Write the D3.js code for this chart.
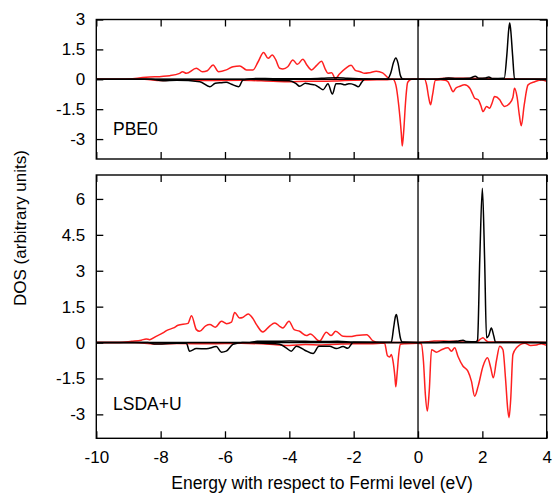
<!DOCTYPE html>
<html>
<head>
<meta charset="utf-8">
<title>DOS PBE0 vs LSDA+U</title>
<script src="https://cdn.jsdelivr.net/npm/d3@7"></script>
<style>
  body { margin: 0; background: #fff; }
  svg text { font-family: "Liberation Sans", Arial, Helvetica, sans-serif; fill: #000; }
</style>
</head>
<body>
<svg id="chart"></svg>
<script>
// energy ticks and labels
var xTicks = [-10, -8, -6, -4, -2, 0, 2, 4];
var pbe0Ticks = [3, 1.5, 0, -1.5, -3];
var lsdaTicks = [6, 4.5, 3, 1.5, 0, -1.5, -3];
var panelNames = ["PBE0", "LSDA+U"];

// PBE0 panel, [energy (eV), DOS]
var pbe0RedUp = [[-10,0],[-9.2,0],[-8.45,0.1],[-7.72,0.18],[-7.41,0.3],[-7.32,0.38],[-7.2,0.3],[-6.89,0.55],[-6.7,0.38],[-6.55,0.43],[-6.37,0.72],[-6.2,0.38],[-5.96,0.47],[-5.75,0.63],[-5.54,0.67],[-5.33,0.47],[-5.13,0.47],[-4.97,0.88],[-4.8,1.35],[-4.66,1.05],[-4.53,1.22],[-4.42,0.97],[-4.3,0.55],[-4.2,0.52],[-4.05,0.63],[-3.89,0.97],[-3.75,0.75],[-3.58,1.0],[-3.45,0.7],[-3.31,0.47],[-3.15,0.7],[-3.0,0.9],[-2.88,0.5],[-2.8,0.3],[-2.68,0.33],[-2.57,0.02],[-2.45,0.25],[-2.25,0.55],[-2.08,0.7],[-1.95,0.45],[-1.8,0.38],[-1.66,0.3],[-1.5,0.33],[-1.3,0.4],[-1.1,0.32],[-0.95,0.1],[-0.85,0],[0,0],[0.6,0.02],[0.9,0.05],[1.5,0.05],[2.0,0.04],[2.5,0.03],[3,0.02],[4,0]];
var pbe0RedDn = [[-10,0],[-8.5,0],[-8.0,-0.06],[-7.5,-0.04],[-6.5,-0.06],[-5.5,-0.05],[-4.5,-0.1],[-4,-0.12],[-3.5,-0.1],[-3,-0.1],[-2.5,-0.08],[-2,-0.05],[-1.5,-0.03],[-1,-0.02],[-0.78,0],[-0.69,-0.28],[-0.6,-1.3],[-0.52,-2.7],[-0.49,-3.35],[-0.44,-2.5],[-0.39,-1.2],[-0.32,-0.15],[-0.2,0],[0.2,0],[0.27,-0.3],[0.33,-0.9],[0.39,-1.28],[0.45,-0.8],[0.54,-0.05],[0.7,-0.02],[0.85,-0.05],[0.93,-0.12],[1.0,-0.35],[1.09,-0.62],[1.17,-0.45],[1.3,-0.35],[1.45,-0.28],[1.61,-0.45],[1.7,-0.75],[1.76,-0.95],[1.87,-1.03],[1.95,-1.3],[2.02,-1.62],[2.13,-1.37],[2.23,-1.45],[2.3,-1.2],[2.38,-0.87],[2.54,-1.03],[2.62,-1.25],[2.69,-1.37],[2.85,-1.2],[2.95,-0.9],[3.0,-0.45],[3.08,-0.9],[3.15,-1.8],[3.21,-2.33],[3.3,-1.3],[3.42,-0.28],[3.63,-0.12],[3.83,-0.03],[4,-0.1]];
var pbe0BlackUp = [[-10,0],[-5.5,0],[-5.0,0.04],[-4.5,0.03],[-3.5,0.03],[-3,0.05],[-2.5,0.08],[-2.2,0.05],[-1.5,0.02],[-0.95,0.02],[-0.85,0.3],[-0.76,0.85],[-0.69,1.07],[-0.62,0.8],[-0.55,0.2],[-0.48,0.02],[-0.3,0],[0.5,0],[0.8,0.04],[0.95,0.07],[1.2,0.04],[1.6,0.05],[1.78,0.15],[1.9,0.05],[2.1,0.06],[2.2,0.12],[2.3,0.04],[2.68,0.05],[2.76,1.2],[2.82,2.5],[2.85,2.82],[2.88,2.5],[2.94,1.2],[3.0,0.05],[3.1,0],[4,0]];
var pbe0BlackDn = [[-10,0],[-8.3,0],[-7.93,-0.07],[-7.5,-0.05],[-6.78,-0.12],[-6.47,-0.37],[-6.3,-0.2],[-6.1,-0.17],[-5.96,-0.15],[-5.8,-0.25],[-5.57,-0.37],[-5.44,-0.03],[-5.2,0],[-4.5,-0.05],[-4.0,-0.07],[-3.8,-0.2],[-3.68,-0.35],[-3.5,-0.2],[-3.35,-0.25],[-3.21,-0.28],[-3.08,-0.4],[-2.95,-0.52],[-2.8,-0.23],[-2.66,-0.74],[-2.55,-0.22],[-2.4,-0.22],[-2.28,-0.28],[-2.15,-0.22],[-2.07,-0.23],[-1.95,-0.3],[-1.86,-0.38],[-1.75,-0.15],[-1.66,0],[4,0]];

// LSDA+U panel
var lsdaRedUp = [[-10,0],[-9.27,0],[-8.9,0.05],[-8.6,0.1],[-8.45,0.15],[-8.34,0.12],[-8.14,0.26],[-7.93,0.4],[-7.82,0.5],[-7.6,0.61],[-7.46,0.72],[-7.15,0.8],[-7.04,1.12],[-6.89,0.54],[-6.79,0.47],[-6.6,0.7],[-6.47,0.75],[-6.3,0.64],[-6.11,0.89],[-5.95,0.79],[-5.8,0.85],[-5.7,1.26],[-5.55,1.03],[-5.45,1.05],[-5.28,1.19],[-5.13,1.0],[-5.02,0.75],[-4.82,0.44],[-4.62,0.68],[-4.45,0.82],[-4.3,0.68],[-4.2,0.61],[-4.01,0.89],[-3.85,0.54],[-3.68,0.47],[-3.47,0.29],[-3.35,0.36],[-3.06,0.06],[-2.85,0.43],[-2.7,0.29],[-2.56,0.47],[-2.33,0.26],[-2.1,0.25],[-1.92,0.29],[-1.59,0.33],[-1.4,0.07],[-1.2,0],[0,0],[0.3,0.03],[0.5,0.07],[0.8,0.06],[1.2,0.05],[1.4,0.02],[1.8,0.02],[1.95,0.15],[2.02,0.2],[2.1,0.1],[2.2,0.02],[3,0.02],[4,0]];
var lsdaRedDn = [[-10,0],[-8.8,0],[-8.2,-0.06],[-7.5,-0.04],[-6.5,-0.05],[-5.5,-0.03],[-4.5,-0.08],[-4,-0.12],[-3.5,-0.08],[-3,-0.1],[-2.5,-0.07],[-2,-0.05],[-1.5,-0.05],[-1.04,-0.02],[-0.95,-0.55],[-0.88,-0.6],[-0.83,-0.5],[-0.78,-0.75],[-0.72,-1.4],[-0.69,-1.85],[-0.65,-1.3],[-0.6,-0.5],[-0.55,-0.07],[-0.4,-0.05],[0,-0.03],[0.1,-0.05],[0.17,-0.8],[0.23,-2.2],[0.29,-2.86],[0.35,-2.0],[0.42,-0.3],[0.57,-0.4],[0.73,-0.3],[0.93,-0.22],[1.04,-0.36],[1.14,-0.22],[1.24,-0.57],[1.4,-0.99],[1.55,-1.19],[1.66,-1.61],[1.76,-2.24],[1.87,-1.82],[2.02,-0.99],[2.16,-0.64],[2.26,-1.05],[2.34,-1.47],[2.44,-0.74],[2.54,-0.15],[2.64,-0.3],[2.72,-1.5],[2.79,-2.8],[2.83,-3.14],[2.88,-2.4],[2.95,-0.5],[3.06,-0.22],[3.32,-0.03],[3.5,-0.12],[3.68,-0.1],[3.83,-0.05],[4,-0.12]];
var lsdaBlackUp = [[-10,0],[-5.3,0],[-5.0,0.05],[-4.5,0.05],[-4,0.06],[-3.5,0.05],[-3,0.04],[-2.5,0.05],[-2,0.02],[-1,0.01],[-0.83,0.02],[-0.76,0.6],[-0.7,1.1],[-0.67,1.17],[-0.62,0.8],[-0.55,0.2],[-0.49,0.02],[0,0],[0.5,0],[0.8,0.03],[1.2,0.05],[1.4,0.1],[1.5,0.04],[1.8,0.03],[1.85,0.1],[1.92,3.5],[2.0,6.45],[2.07,3.5],[2.13,0.2],[2.2,0.3],[2.28,0.61],[2.35,0.3],[2.41,0.02],[4,0]];
var lsdaBlackDn = [[-10,0],[-8.4,0],[-8.2,-0.06],[-7.5,-0.03],[-7.2,-0.03],[-7.1,-0.36],[-6.89,-0.25],[-6.58,-0.26],[-6.27,-0.17],[-6.11,-0.4],[-5.96,-0.36],[-5.75,-0.07],[-5.45,0],[-4.5,-0.05],[-4.3,-0.07],[-4.1,-0.22],[-3.94,-0.36],[-3.78,-0.15],[-3.52,-0.32],[-3.26,-0.46],[-3.08,-0.15],[-2.75,-0.15],[-2.54,-0.25],[-2.33,-0.17],[-2.18,-0.24],[-2.02,0],[4,0]];

var width = 557, height = 496;
var left = 96.3, right = 546.7;
var red = "#ff2020";

var svg = d3.select("#chart").attr("width", width).attr("height", height);

var x = d3.scaleLinear().domain([-10, 4]).range([left, right]);

var panels = [
  { name: panelNames[0], top: 19.5, bottom: 159, domain: [-4, 3], ticks: pbe0Ticks,
    red: [pbe0RedUp, pbe0RedDn], black: [pbe0BlackUp, pbe0BlackDn], labelY: 135, xLabels: false },
  { name: panelNames[1], top: 175, bottom: 438.3, domain: [-4, 7], ticks: lsdaTicks,
    red: [lsdaRedUp, lsdaRedDn], black: [lsdaBlackUp, lsdaBlackDn], labelY: 409.5, xLabels: true }
];

var fmt = function (d) { return d.toString(); };

panels.forEach(function (p, i) {
  var y = d3.scaleLinear().domain(p.domain).range([p.bottom, p.top]);
  var g = svg.append("g");

  g.append("clipPath").attr("id", "clip" + i)
    .append("rect").attr("x", left).attr("y", p.top)
    .attr("width", right - left).attr("height", p.bottom - p.top);

  var line = d3.line()
    .x(function (d) { return x(d[0]); })
    .y(function (d) { return y(d[1]); })
    .curve(d3.curveMonotoneX);

  var plot = g.append("g").attr("clip-path", "url(#clip" + i + ")");

  p.red.forEach(function (s) {
    plot.append("path").datum(s).attr("d", line)
      .attr("fill", "none").attr("stroke", red).attr("stroke-width", 1.5);
  });
  p.black.forEach(function (s) {
    plot.append("path").datum(s).attr("d", line)
      .attr("fill", "none").attr("stroke", "#000").attr("stroke-width", 1.5);
  });

  // zero lines
  plot.append("line").attr("x1", left).attr("x2", right)
    .attr("y1", y(0)).attr("y2", y(0))
    .attr("stroke", "#000").attr("stroke-width", 1.3);
  plot.append("line").attr("x1", x(0)).attr("x2", x(0))
    .attr("y1", p.top).attr("y2", p.bottom)
    .attr("stroke", "#000").attr("stroke-width", 1.3);

  // axes with inward ticks
  var bottomAxis = d3.axisBottom(x).tickValues(xTicks).tickSize(-7).tickPadding(13)
    .tickFormat(p.xLabels ? fmt : "");
  var topAxis = d3.axisTop(x).tickValues(xTicks).tickSize(-7).tickFormat("");
  var leftAxis = d3.axisLeft(y).tickValues(p.ticks).tickSize(-7).tickPadding(11).tickFormat(fmt);
  var rightAxis = d3.axisRight(y).tickValues(p.ticks).tickSize(-7).tickFormat("");

  [[bottomAxis, "translate(0," + p.bottom + ")"],
   [topAxis, "translate(0," + p.top + ")"],
   [leftAxis, "translate(" + left + ",0)"],
   [rightAxis, "translate(" + right + ",0)"]].forEach(function (a) {
    var ax = g.append("g").attr("transform", a[1]).call(a[0]);
    ax.select(".domain").remove();
    ax.selectAll(".tick line").attr("stroke", "#000").attr("stroke-width", 1.3);
    ax.selectAll("text").style("font-size", "17px")
      .style("font-family", '"Liberation Sans", Arial, sans-serif');
  });

  g.append("rect").attr("x", left).attr("y", p.top)
    .attr("width", right - left).attr("height", p.bottom - p.top)
    .attr("fill", "none").attr("stroke", "#000").attr("stroke-width", 1.4);

  g.append("text").attr("x", 113).attr("y", p.labelY)
    .style("font-size", "17.5px").text(p.name);
});

svg.append("text")
  .attr("transform", "translate(26,228) rotate(-90)")
  .attr("text-anchor", "middle")
  .style("font-size", "17px")
  .text("DOS (arbitrary units)");

svg.append("text")
  .attr("x", 322).attr("y", 489)
  .attr("text-anchor", "middle")
  .style("font-size", "17.5px")
  .text("Energy with respect to Fermi level (eV)");
</script>
</body>
</html>
